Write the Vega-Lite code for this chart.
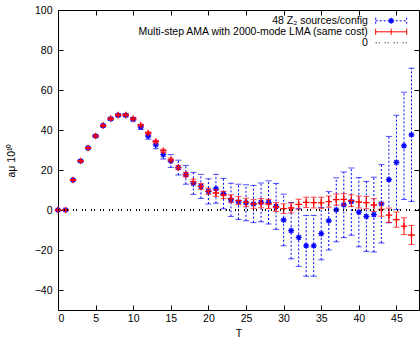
{
  "$schema": "https://vega.github.io/schema/vega-lite/v6.json",
  "width": 361,
  "height": 300,
  "autosize": {"type": "none"},
  "padding": {"left": 58, "top": 10, "right": 1, "bottom": 28},
  "background": "white",
  "config": {
    "font": "Liberation Sans",
    "view": {"stroke": "black", "strokeWidth": 1},
    "axis": {
      "domain": false,
      "grid": false,
      "tickColor": "black",
      "tickSize": -5,
      "labelColor": "black",
      "labelFontSize": 10.5,
      "labelFont": "Liberation Sans",
      "titleFont": "Liberation Sans",
      "titleFontSize": 10.5,
      "titleFontWeight": "normal",
      "titleColor": "black"
    }
  },
  "data": {
    "values": [
      {"T": 0, "blue": 0, "blueErr": 0.3, "red": 0, "redErr": 0.2},
      {"T": 1, "blue": 0, "blueErr": 0.3, "red": 0, "redErr": 0.2},
      {"T": 2, "blue": 15, "blueErr": 0.4, "red": 15, "redErr": 0.3},
      {"T": 3, "blue": 24.5, "blueErr": 0.5, "red": 24.5, "redErr": 0.3},
      {"T": 4, "blue": 31, "blueErr": 0.5, "red": 31, "redErr": 0.3},
      {"T": 5, "blue": 37, "blueErr": 0.6, "red": 37, "redErr": 0.4},
      {"T": 6, "blue": 42.2, "blueErr": 0.6, "red": 42.2, "redErr": 0.4},
      {"T": 7, "blue": 45.6, "blueErr": 0.7, "red": 45.7, "redErr": 0.4},
      {"T": 8, "blue": 47.4, "blueErr": 0.7, "red": 47.5, "redErr": 0.4},
      {"T": 9, "blue": 47.4, "blueErr": 0.8, "red": 47.5, "redErr": 0.5},
      {"T": 10, "blue": 45.4, "blueErr": 0.9, "red": 45.6, "redErr": 0.5},
      {"T": 11, "blue": 41.5, "blueErr": 1.2, "red": 42.4, "redErr": 0.5},
      {"T": 12, "blue": 37.0, "blueErr": 1.6, "red": 38.5, "redErr": 0.6},
      {"T": 13, "blue": 32.6, "blueErr": 2.0, "red": 34.2, "redErr": 0.7},
      {"T": 14, "blue": 27.7, "blueErr": 2.2, "red": 29.6, "redErr": 0.8},
      {"T": 15, "blue": 24.5, "blueErr": 3.2, "red": 25.1, "redErr": 0.9},
      {"T": 16, "blue": 21.2, "blueErr": 3.7, "red": 21.2, "redErr": 1.0},
      {"T": 17, "blue": 17.6, "blueErr": 4.7, "red": 17.7, "redErr": 1.1},
      {"T": 18, "blue": 13.3, "blueErr": 5.5, "red": 14.2, "redErr": 1.2},
      {"T": 19, "blue": 11.8, "blueErr": 6.0, "red": 11.8, "redErr": 1.4},
      {"T": 20, "blue": 9.3, "blueErr": 6.3, "red": 9.4, "redErr": 1.5},
      {"T": 21, "blue": 10.6, "blueErr": 7.2, "red": 8.5, "redErr": 1.7},
      {"T": 22, "blue": 8.2, "blueErr": 7.6, "red": 7.5, "redErr": 1.8},
      {"T": 23, "blue": 5.1, "blueErr": 8.3, "red": 5.7, "redErr": 1.9},
      {"T": 24, "blue": 4.1, "blueErr": 8.8, "red": 4.7, "redErr": 2.0},
      {"T": 25, "blue": 3.6, "blueErr": 9.0, "red": 3.8, "redErr": 2.1},
      {"T": 26, "blue": 3.0, "blueErr": 9.3, "red": 3.0, "redErr": 2.2},
      {"T": 27, "blue": 3.8, "blueErr": 9.7, "red": 3.4, "redErr": 2.3},
      {"T": 28, "blue": 3.8, "blueErr": 10.8, "red": 3.0, "redErr": 2.3},
      {"T": 29, "blue": 1.8, "blueErr": 11.5, "red": 1.5, "redErr": 2.2},
      {"T": 30, "blue": -5.0, "blueErr": 12.9, "red": 0.7, "redErr": 2.4},
      {"T": 31, "blue": -10.3, "blueErr": 14.1, "red": 1.0, "redErr": 2.5},
      {"T": 32, "blue": -13.7, "blueErr": 14.5, "red": 2.8, "redErr": 2.6},
      {"T": 33, "blue": -17.9, "blueErr": 15.2, "red": 3.8, "redErr": 2.6},
      {"T": 34, "blue": -17.9, "blueErr": 15.2, "red": 3.7, "redErr": 2.7},
      {"T": 35, "blue": -11.8, "blueErr": 13.1, "red": 3.6, "redErr": 2.8},
      {"T": 36, "blue": -5.4, "blueErr": 14.6, "red": 4.2, "redErr": 2.8},
      {"T": 37, "blue": 0.1, "blueErr": 16.0, "red": 5.2, "redErr": 2.8},
      {"T": 38, "blue": 2.6, "blueErr": 16.4, "red": 5.3, "redErr": 2.9},
      {"T": 39, "blue": 4.2, "blueErr": 16.8, "red": 4.7, "redErr": 2.9},
      {"T": 40, "blue": -1.1, "blueErr": 17.3, "red": 4.0, "redErr": 3.0},
      {"T": 41, "blue": -3.2, "blueErr": 17.5, "red": 3.7, "redErr": 3.1},
      {"T": 42, "blue": -2.3, "blueErr": 18.7, "red": 2.5, "redErr": 3.2},
      {"T": 43, "blue": 3.1, "blueErr": 19.6, "red": 0.3, "redErr": 3.4},
      {"T": 44, "blue": 15.2, "blueErr": 21.6, "red": -2.6, "redErr": 3.6},
      {"T": 45, "blue": 23.8, "blueErr": 23.6, "red": -4.8, "redErr": 3.8},
      {"T": 46, "blue": 32.1, "blueErr": 26.8, "red": -8.1, "redErr": 4.2},
      {"T": 47, "blue": 37.6, "blueErr": 33.3, "red": -12.5, "redErr": 4.8}
    ]
  },
  "layer": [
    {
      "mark": {"type": "errorbar", "color": "#0000ff", "ticks": {"size": 6, "strokeDash": [2, 2]}, "rule": {"strokeDash": [2, 2]}},
      "encoding": {
        "x": {"field": "T", "type": "quantitative", "title": "T",
              "scale": {"domain": [0, 48], "nice": false, "zero": false},
              "axis": {"orient": "bottom", "values": [0, 5, 10, 15, 20, 25, 30, 35, 40, 45], "labelPadding": 8, "titlePadding": 5}},
        "y": {"field": "blue", "type": "quantitative", "title": "a\u03bc 10\u00b9\u2070",
              "scale": {"domain": [-50, 100], "nice": false, "zero": false},
              "axis": {"orient": "left", "values": [-40, -20, 0, 20, 40, 60, 80, 100], "labelPadding": 11, "titlePadding": 18}},
        "yError": {"field": "blueErr"}
      }
    },
    {
      "mark": {"type": "point", "shape": "M-1,0L1,0M0,-1L0,1M-0.7,-0.7L0.7,0.7M-0.7,0.7L0.7,-0.7", "filled": false, "stroke": "#0000ff", "strokeWidth": 1.3, "size": 36, "opacity": 1},
      "encoding": {
        "x": {"field": "T", "type": "quantitative", "axis": null},
        "y": {"field": "blue", "type": "quantitative", "axis": null}
      }
    },
    {
      "mark": {"type": "errorbar", "color": "#ff0000", "ticks": {"size": 6}},
      "encoding": {
        "x": {"field": "T", "type": "quantitative", "axis": null},
        "y": {"field": "red", "type": "quantitative", "axis": null},
        "yError": {"field": "redErr"}
      }
    },
    {
      "mark": {"type": "point", "shape": "M-1,0L1,0M0,-1L0,1", "filled": false, "stroke": "#ff0000", "strokeWidth": 1.3, "size": 42, "opacity": 1},
      "encoding": {
        "x": {"field": "T", "type": "quantitative", "axis": {"orient": "top", "labels": false, "title": null, "values": [0, 5, 10, 15, 20, 25, 30, 35, 40, 45]}},
        "y": {"field": "red", "type": "quantitative", "axis": {"orient": "right", "labels": false, "title": null, "values": [-40, -20, 0, 20, 40, 60, 80, 100]}}
      }
    },
    {
      "mark": {"type": "rule", "color": "black", "strokeWidth": 1, "strokeDash": [1, 2, 1, 5]},
      "encoding": {"y": {"datum": 0, "axis": null}}
    },
    {
      "data": {"values": [{}]},
      "mark": {"type": "text", "align": "right", "baseline": "middle", "fontSize": 10.5, "color": "black", "text": "48 Z\u2082 sources/config"},
      "encoding": {"x": {"datum": 41.2, "axis": null}, "y": {"datum": 94.6, "axis": null}}
    },
    {
      "data": {"values": [{}]},
      "mark": {"type": "text", "align": "right", "baseline": "middle", "fontSize": 10.5, "color": "black", "text": "Multi-step AMA with 2000-mode LMA (same cost)"},
      "encoding": {"x": {"datum": 41.2, "axis": null}, "y": {"datum": 89.1, "axis": null}}
    },
    {
      "data": {"values": [{}]},
      "mark": {"type": "text", "align": "right", "baseline": "middle", "fontSize": 10.5, "color": "black", "text": "0"},
      "encoding": {"x": {"datum": 41.2, "axis": null}, "y": {"datum": 83.6, "axis": null}}
    },
    {
      "data": {"values": [{}]},
      "mark": {"type": "point", "shape": "M-1,-0.2L-1,0.2M-1,0L1,0M1,-0.2L1,0.2", "filled": false, "stroke": "#0000ff", "strokeWidth": 1, "strokeDash": [2, 2], "size": 961, "opacity": 1},
      "encoding": {"x": {"datum": 44.3, "axis": null}, "y": {"datum": 94.6, "axis": null}}
    },
    {
      "data": {"values": [{}]},
      "mark": {"type": "point", "shape": "M-1,0L1,0M0,-1L0,1M-0.7,-0.7L0.7,0.7M-0.7,0.7L0.7,-0.7", "filled": false, "stroke": "#0000ff", "strokeWidth": 1.3, "size": 36, "opacity": 1},
      "encoding": {"x": {"datum": 44.3, "axis": null}, "y": {"datum": 94.6, "axis": null}}
    },
    {
      "data": {"values": [{}]},
      "mark": {"type": "point", "shape": "M-1,-0.2L-1,0.2M-1,0L1,0M1,-0.2L1,0.2", "filled": false, "stroke": "#ff0000", "strokeWidth": 1, "size": 961, "opacity": 1},
      "encoding": {"x": {"datum": 44.3, "axis": null}, "y": {"datum": 89.1, "axis": null}}
    },
    {
      "data": {"values": [{}]},
      "mark": {"type": "point", "shape": "M0,-1L0,1", "filled": false, "stroke": "#ff0000", "strokeWidth": 1, "size": 36, "opacity": 1},
      "encoding": {"x": {"datum": 44.3, "axis": null}, "y": {"datum": 89.1, "axis": null}}
    },
    {
      "data": {"values": [{}]},
      "mark": {"type": "point", "shape": "M-1,0L1,0", "filled": false, "stroke": "black", "strokeWidth": 1, "strokeDash": [1, 2, 1, 5], "size": 961, "opacity": 1},
      "encoding": {"x": {"datum": 44.3, "axis": null}, "y": {"datum": 83.6, "axis": null}}
    }
  ],
  "resolve": {"axis": {"x": "independent", "y": "independent"}}
}
